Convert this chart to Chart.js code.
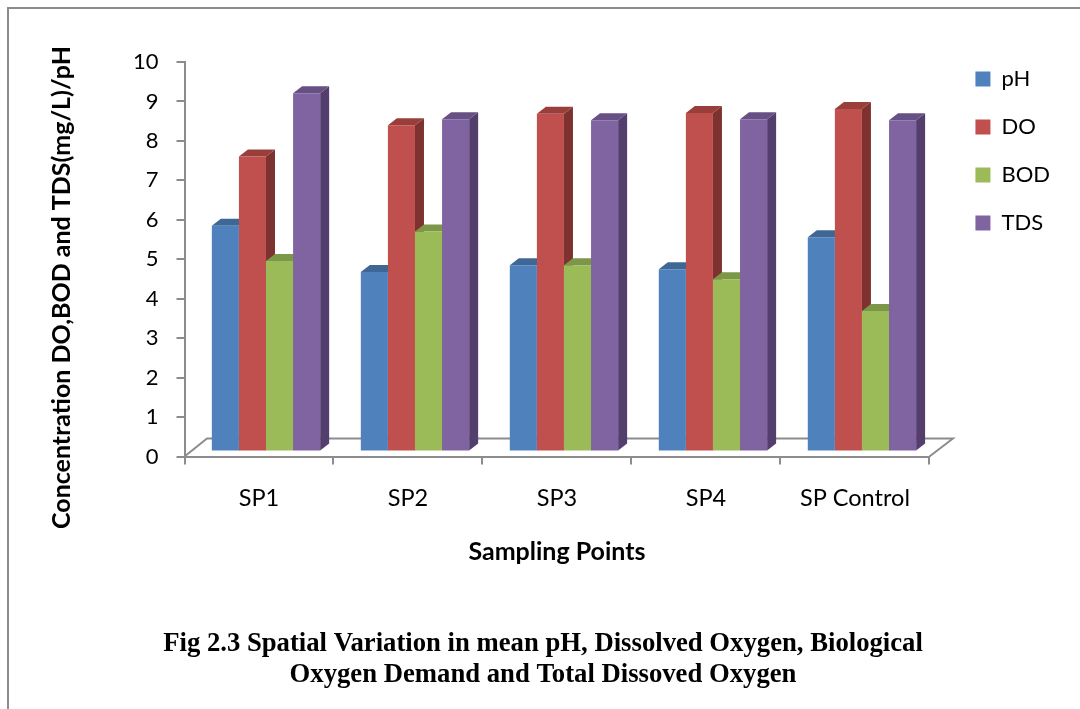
<!DOCTYPE html>
<html><head><meta charset="utf-8">
<style>html,body{margin:0;padding:0;background:#fff}#w{position:relative;width:1080px;height:709px}</style>
<script src="https://cdn.jsdelivr.net/npm/chart.js@4"></script>
</head><body><div id="w"><canvas id="c" width="1080" height="709"></canvas></div>
<script>
const categories = ['SP1','SP2','SP3','SP4','SP Control'];
const pH  = [5.72,4.55,4.72,4.62,5.43];
const DO  = [7.48,8.27,8.56,8.58,8.68];
const BOD = [4.83,5.58,4.72,4.37,3.56];
const TDS = [9.08,8.42,8.40,8.42,8.40];
const seriesNames = ['pH','DO','BOD','TDS'];
const seriesValues = [pH,DO,BOD,TDS];
const fronts = ['#4F81BD','#C0504D','#9BBB59','#8064A2'];
const sides  = ['#35577F','#7E322F','#66803A','#533E6E'];
const tops   = ['#3F6796','#9A3E3B','#7C9747','#675083'];
const yTitle = 'Concentration DO,BOD and TDS(mg/L)/pH';
const xTitle = 'Sampling Points';
const caption = ['Fig 2.3 Spatial Variation in mean pH, Dissolved Oxygen, Biological','Oxygen Demand and Total Dissoved Oxygen'];
const DX = 7, DY = -5, SX = 9, SY = -7;
const GREY = '#8C8C8C';

const box3d = {
  id:'box3d',
  afterLayout(chart){
    const l = chart.legend;
    l.top -= 20; l.bottom -= 20;
    l.left += 20; l.right += 20;
  },
  beforeDraw(chart){
    const c = chart.ctx;
    c.save();
    c.strokeStyle = GREY; c.lineWidth = 2;
    c.beginPath(); c.moveTo(1080,8); c.lineTo(8,8); c.lineTo(8,709); c.stroke();
    c.restore();
  },
  beforeDatasetsDraw(chart){
    const c = chart.ctx, {left,right,bottom} = chart.chartArea;
    c.save();
    c.strokeStyle = GREY; c.lineWidth = 2;
    c.beginPath();
    c.moveTo(left,bottom); c.lineTo(left+22.5,bottom-18);
    c.lineTo(right+23.5,bottom-18); c.lineTo(right,bottom);
    c.stroke();
    c.restore();
    c.save();
    c.translate(DX,DY);
    for(let i=0;i<categories.length;i++){
      seriesValues.forEach((_,d)=>{
        const b = chart.getDatasetMeta(d).data[i];
        const x0=b.x-b.width/2, x1=b.x+b.width/2, t=b.y, bt=b.base;
        c.fillStyle = sides[d];
        c.beginPath(); c.moveTo(x1,t); c.lineTo(x1+SX,t+SY); c.lineTo(x1+SX,bt+SY); c.lineTo(x1,bt); c.closePath(); c.fill();
        c.fillStyle = tops[d];
        c.beginPath(); c.moveTo(x0,t); c.lineTo(x0+SX,t+SY); c.lineTo(x1+SX,t+SY); c.lineTo(x1,t); c.closePath(); c.fill();
      });
    }
  },
  afterDatasetsDraw(chart){ chart.ctx.restore(); },
  afterDraw(chart){
    const c = chart.ctx;
    c.save();
    c.translate(62,287.5); c.rotate(-Math.PI/2);
    c.font = 'bold 25px Lato'; c.fillStyle='#000'; c.textAlign='center'; c.textBaseline='middle';
    c.fillText(yTitle,0,0);
    c.restore();
  }
};

new Chart(document.getElementById('c'),{
  type:'bar',
  data:{labels:categories,datasets:seriesNames.map((n,i)=>({
    label:n,data:seriesValues[i],backgroundColor:fronts[i],borderWidth:0,clip:false,
    categoryPercentage:0.727,barPercentage:1
  }))},
  plugins:[box3d],
  options:{
    responsive:false,animation:false,
    layout:{padding:{left:46,right:40,top:62,bottom:0}},
    plugins:{
      tooltip:{enabled:false},
      legend:{position:'right',align:'start',labels:{boxWidth:15,boxHeight:15,padding:26,color:'#000',font:{family:'Lato',size:22}}},
      title:{display:true,position:'bottom',text:caption,color:'#000',
        font:{family:'"Liberation Serif"',size:26.7,weight:'bold',lineHeight:1.16},padding:{top:0,bottom:18}}
    },
    scales:{
      x:{
        afterFit(s){s.height=172.5;},
        grid:{drawOnChartArea:false,color:GREY,lineWidth:2,tickLength:8,offset:true},
        border:{color:GREY,width:2},
        ticks:{color:'#000',font:{family:'Lato',size:23.5},padding:20,maxRotation:0},
        title:{display:true,text:xTitle,color:'#000',font:{family:'Lato',size:25,weight:'bold'},padding:{top:0,bottom:62}}
      },
      y:{
        min:0,max:10,
        afterFit(s){s.width=138.5;},
        grid:{drawOnChartArea:false,color:GREY,lineWidth:2,tickLength:8},
        border:{color:GREY,width:2},
        ticks:{stepSize:1,color:'#000',font:{family:'Lato',size:22},padding:18}
      }
    }
  }
});
</script></body></html>
